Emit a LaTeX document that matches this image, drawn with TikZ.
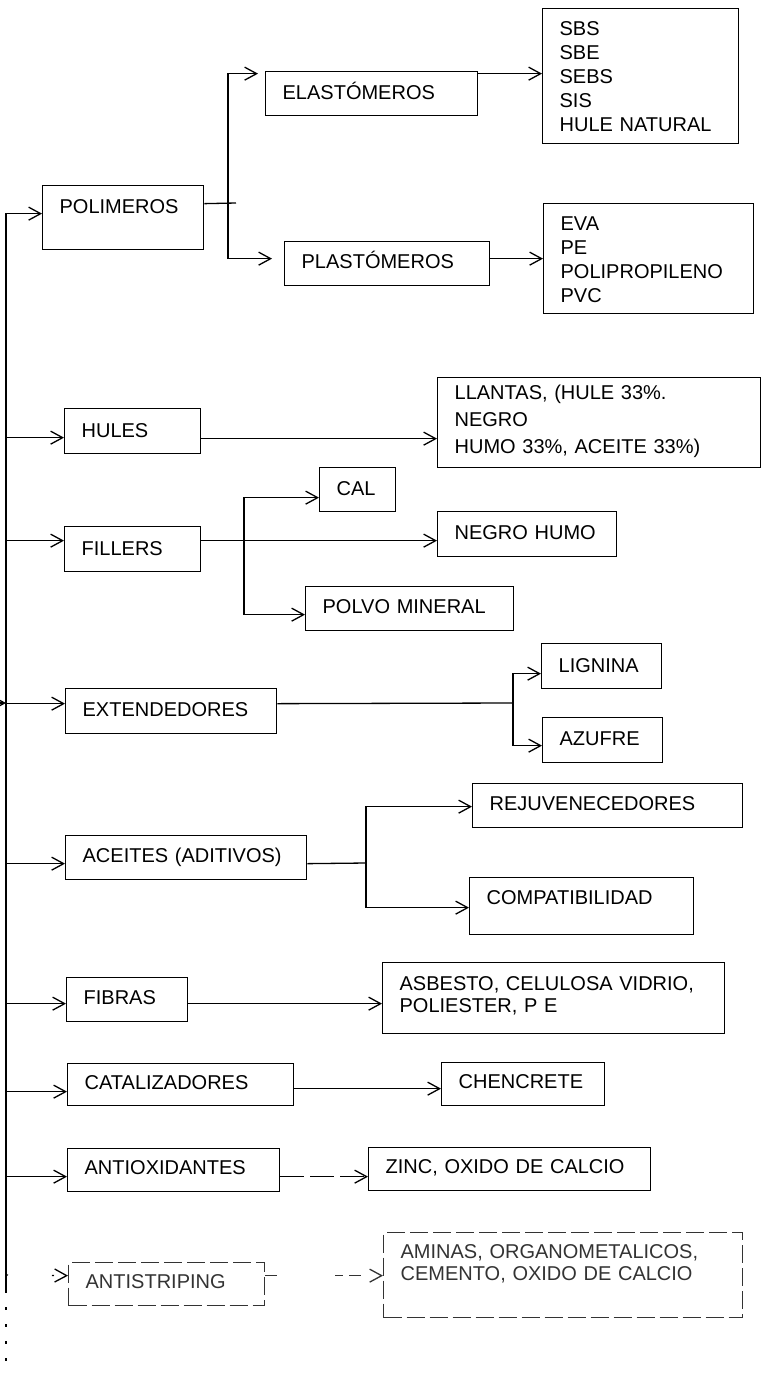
\documentclass[tikz,border=0pt]{standalone}
\usepackage{fontspec}
\setmainfont{Liberation Sans}
\usetikzlibrary{arrows.meta}
\tikzset{caja/.style n args={3}{draw, line width=1.3pt, anchor=north west, inner xsep=17pt, inner ysep=0pt, align=left, text width=#1pt-34pt, text height=#3pt, text depth=#2pt-#3pt, font=\fontsize{20}{24}\selectfont}}
\tikzset{trazo/.style={line width=1.3pt}}
\tikzset{flecha/.style={trazo, -{Straight Barb[length=12pt, width=13pt]}}}
\tikzset{punteada/.style={dash pattern=on 18pt off 5pt, draw=black!80, text=black!80}}

\begin{document}
\begin{tikzpicture}[x=1pt, y=-1pt]
\useasboundingbox (0,0) rectangle (765,1374);
\node[caja={161}{64}{28}] (polimeros) at (42,185) {POLIMEROS};
\node[caja={212}{44}{28}] (elastomeros) at (265,71) {ELASTÓMEROS};
\node[caja={196}{135}{27}] (elastlista) at (542,8) {SBS\\SBE\\SEBS\\SIS\\HULE NATURAL};
\node[caja={205}{44}{27}] (plastomeros) at (284,241) {PLASTÓMEROS};
\node[caja={210}{110}{27}] (plastlista) at (543,203) {EVA\\PE\\POLIPROPILENO\\PVC};
\node[caja={136}{45}{29}] (hules) at (64,408) {HULES};
\node[caja={323}{90}{22}, font=\fontsize{20}{27}\selectfont] (llantas) at (437,377) {LLANTAS, (HULE 33\%.\\NEGRO\\HUMO 33\%, ACEITE 33\%)};
\node[caja={76}{44}{28}] (cal) at (319,467) {CAL};
\node[caja={136}{45}{29}] (fillers) at (64,526) {FILLERS};
\node[caja={179}{45}{28}] (negrohumo) at (437,511) {NEGRO HUMO};
\node[caja={208}{44}{27}] (polvo) at (305,586) {POLVO MINERAL};
\node[caja={120}{45}{29}] (lignina) at (541,643) {LIGNINA};
\node[caja={211}{45}{28}] (extendedores) at (65,688) {EXTENDEDORES};
\node[caja={120}{45}{28}] (azufre) at (542,717) {AZUFRE};
\node[caja={270}{44}{27}] (rejuv) at (472,783) {REJUVENECEDORES};
\node[caja={241}{44}{27}] (aceites) at (65,835) {ACEITES (ADITIVOS)};
\node[caja={224}{57}{27}] (compat) at (469,877) {COMPATIBILIDAD};
\node[caja={121}{44}{27}] (fibras) at (66,977) {FIBRAS};
\node[caja={342}{71}{28}, font=\fontsize{20}{22}\selectfont] (asbesto) at (382,962) {ASBESTO, CELULOSA VIDRIO,\\POLIESTER, P E};
\node[caja={226}{42}{26}] (catalizadores) at (67,1063) {CATALIZADORES};
\node[caja={163}{43}{26}] (chencrete) at (441,1062) {CHENCRETE};
\node[caja={212}{43}{26}] (antioxidantes) at (67,1148) {ANTIOXIDANTES};
\node[caja={282}{43}{26}] (zinc) at (368,1147) {ZINC, OXIDO DE CALCIO};
\node[caja={196}{43}{26}, punteada] (antistriping) at (68,1262) {ANTISTRIPING};
\node[caja={359}{85}{26}, punteada, font=\fontsize{20}{22}\selectfont] (aminas) at (383,1232) {AMINAS, ORGANOMETALICOS,\\CEMENTO, OXIDO DE CALCIO};
\coordinate (tronco) at (6,213);
\coordinate (corte) at (6,1290);
\coordinate (base) at (6,1374);
\coordinate (entrada) at (-10,703);
\coordinate (t5) at (6,703);
\coordinate (t9) at (6,1275);
\coordinate (rpol) at (228,203);
\coordinate (rpolfin) at (236,203);
\coordinate (rfil) at (244,540);
\coordinate (rext) at (513,703);
\coordinate (racei) at (366,863);
\draw[trazo] (tronco) -- (corte);
\draw[trazo, dash pattern=on 3pt off 14pt] (corte) -- (base);
\draw[flecha] (entrada) -- (t5);
\draw[flecha] (tronco) |- ([yshift=4pt]polimeros.west);
\draw[flecha] (tronco) |- ([yshift=-6.5pt]hules.west);
\draw[flecha] (tronco) |- ([yshift=8.5pt]fillers.west);
\draw[flecha] (tronco) |- ([yshift=7.5pt]extendedores.west);
\draw[flecha] (tronco) |- ([yshift=-6pt]aceites.west);
\draw[flecha] (tronco) |- ([yshift=-4pt]fibras.west);
\draw[flecha] (tronco) |- ([yshift=-7pt]catalizadores.west);
\draw[flecha] (tronco) |- ([yshift=-6.5pt]antioxidantes.west);
\draw[flecha, dash pattern=on 2pt off 44pt] (t9) -- ([yshift=8.5pt]antistriping.west);
\draw[trazo] ([yshift=14pt]polimeros.east) -- (rpolfin);
\draw[flecha, shorten >=7pt] (rpol) |- ([yshift=20pt]elastomeros.west);
\draw[flecha, shorten >=12pt] (rpol) |- ([yshift=5pt]plastomeros.west);
\draw[flecha] ([yshift=20pt]elastomeros.east) -- ([yshift=2.5pt]elastlista.west);
\draw[flecha] ([yshift=5pt]plastomeros.east) -- (plastlista.west);
\draw[flecha] ([yshift=-7.5pt]hules.east) -- ([yshift=-16pt]llantas.west);
\draw[flecha] ([yshift=8.5pt]fillers.east) -- ([yshift=-6.5pt]negrohumo.west);
\draw[flecha] (rfil) |- ([yshift=-8pt]cal.west);
\draw[flecha] (rfil) |- ([yshift=-6pt]polvo.west);
\draw[trazo] ([yshift=7.5pt]extendedores.east) -- (rext);
\draw[flecha] (rext) |- ([yshift=-7.5pt]lignina.west);
\draw[flecha] (rext) |- ([yshift=-5.5pt]azufre.west);
\draw[trazo] ([yshift=-6pt]aceites.east) -- (racei);
\draw[flecha] (racei) |- ([yshift=-1pt]rejuv.west);
\draw[flecha] (racei) |- ([yshift=-1.5pt]compat.west);
\draw[flecha] ([yshift=-4pt]fibras.east) -- ([yshift=-5.5pt]asbesto.west);
\draw[flecha] ([yshift=-4pt]catalizadores.east) -- ([yshift=-4.5pt]chencrete.west);
\draw[flecha, dash pattern=on 24pt off 6pt] ([yshift=-6.5pt]antioxidantes.east) -- ([yshift=-7.5pt]zinc.west);
\draw[flecha, dash pattern=on 12pt off 58pt on 8pt off 6pt, draw=black!80] ([yshift=8.5pt]antistriping.east) -- ([yshift=-0.5pt]aminas.west);
\end{tikzpicture}
\end{document}
